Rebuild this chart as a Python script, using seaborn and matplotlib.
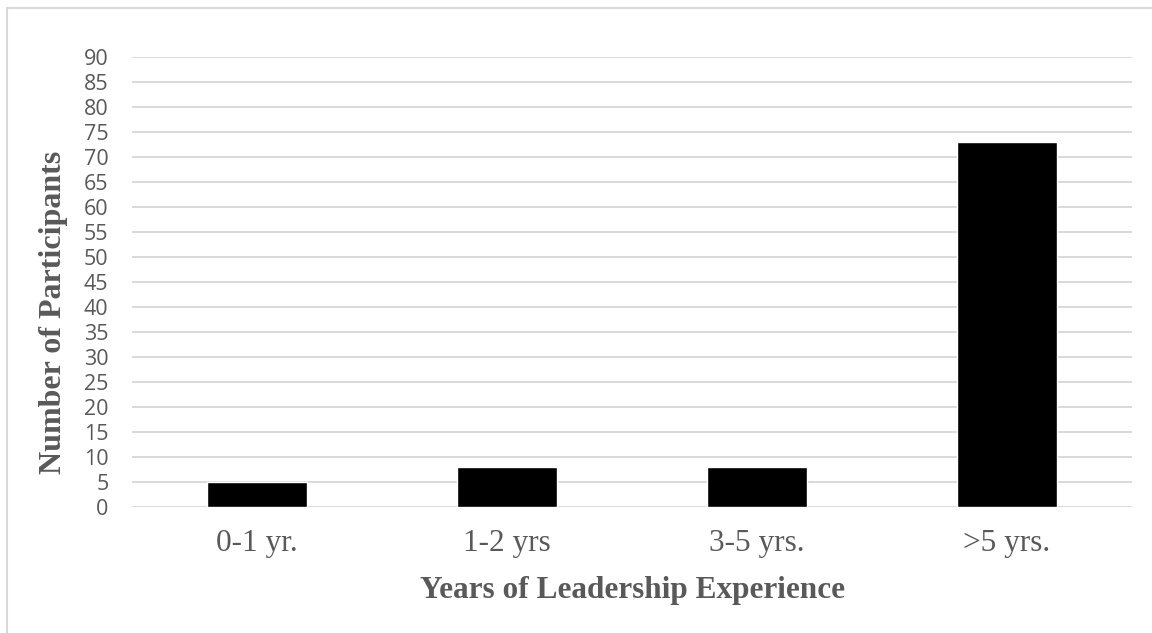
import matplotlib
matplotlib.use("Agg")
import pandas as pd
import matplotlib.pyplot as plt
import seaborn as sb
from matplotlib.patches import Rectangle

categories = ["0-1 yr.", "1-2 yrs", "3-5 yrs.", ">5 yrs."]
participants = [5, 8, 8, 73]
y_ticks = list(range(0, 95, 5))

data = pd.DataFrame({"Experience": categories, "Participants": participants})

sb.set_style("white")
plt.rcParams["font.family"] = ["Liberation Serif", "DejaVu Serif"]

fig = plt.figure(figsize=(11.52, 6.33), dpi=100)
ax = fig.add_axes([132 / 1152, 1 - 507 / 633, 1000 / 1152, 450 / 633])

sb.barplot(x="Experience", y="Participants", data=data, color="black",
           width=0.4, saturation=1, ax=ax, zorder=3)

# Excel style grid
ax.set_ylim(0, 90)
ax.set_yticks(y_ticks)
ax.set_yticklabels([str(t) for t in y_ticks], family="Open Sans",
                   fontsize=15.5, color="#595959")
ax.yaxis.grid(True, color="#d9d9d9", linewidth=1.4, zorder=0)
ax.set_axisbelow(True)
for s in ax.spines.values():
    s.set_visible(False)
ax.tick_params(axis="y", length=0, pad=17)
ax.tick_params(axis="x", length=0, pad=16, labelsize=22.5, labelcolor="#595959")

ax.set_xlabel("Years of Leadership Experience", fontsize=22.5,
              fontweight="bold", color="#595959", labelpad=13)
ax.set_ylabel("Number of Participants", fontsize=23,
              fontweight="bold", color="#595959", labelpad=11)
ax.yaxis.label.set_y(0.433)

# chart border (cropped on the right and bottom)
fig.patches.append(Rectangle((7 / 1152, -0.05), 1.2, 1 - 8 / 633 + 0.05,
                             transform=fig.transFigure, fill=False,
                             edgecolor="#d9d9d9", linewidth=1.5))

plt.savefig("out.png", dpi=100)
